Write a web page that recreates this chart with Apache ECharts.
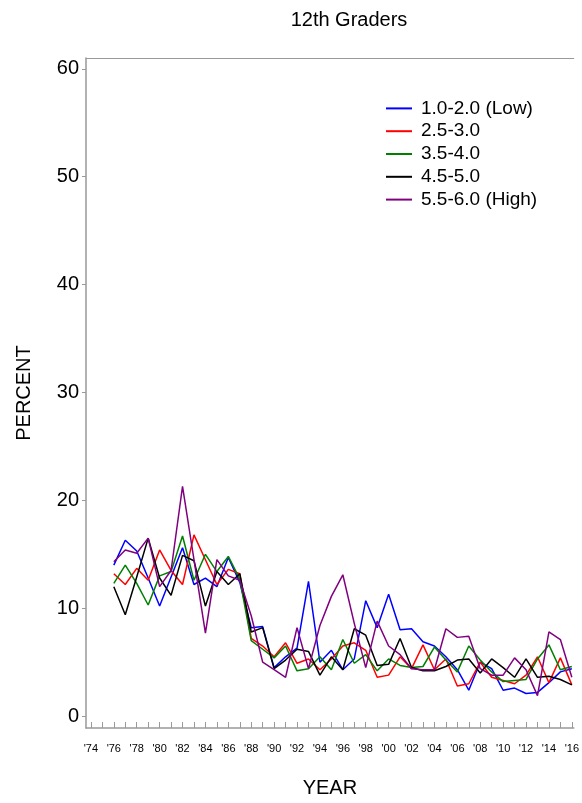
<!DOCTYPE html>
<html>
<head>
<meta charset="utf-8">
<script src="https://cdn.jsdelivr.net/npm/echarts@6/dist/echarts.min.js"></script>
<style>
html,body{margin:0;padding:0;background:#fff;}
#chart{width:582px;height:803px;}
</style>
</head>
<body>
<div id="chart"></div>
<script>
var years = [1976,1977,1978,1979,1980,1981,1982,1983,1984,1985,1986,1987,1988,1989,1990,1991,1992,1993,1994,1995,1996,1997,1998,1999,2000,2001,2002,2003,2004,2005,2006,2007,2008,2009,2010,2011,2012,2013,2014,2015,2016];
var low  = [14.0,16.3,15.3,12.8,10.2,12.9,15.6,12.2,12.8,12.0,14.7,12.4,8.2,8.3,4.5,5.5,6.3,12.5,5.0,6.1,4.3,5.3,10.7,8.2,11.3,8.0,8.1,6.9,6.5,5.5,4.3,2.4,5.0,4.4,2.4,2.6,2.1,2.2,3.1,4.1,4.4];
var r25  = [13.2,12.2,13.7,12.6,15.4,13.5,12.2,16.8,14.5,12.2,13.6,13.2,7.2,6.5,5.5,6.8,4.9,5.3,4.3,5.3,6.5,6.8,6.1,3.6,3.8,5.5,4.4,6.6,4.3,5.3,2.8,3.0,5.0,3.6,3.3,3.0,3.8,5.5,3.1,5.4,2.9];
var r35  = [12.3,14.0,12.3,10.3,13.0,13.4,16.7,12.6,15.0,13.4,14.8,12.7,7.0,6.2,5.4,6.5,4.2,4.4,5.5,4.3,7.1,4.9,5.7,4.2,5.3,4.7,4.5,4.6,6.4,5.2,4.1,6.5,5.2,4.1,3.2,3.3,3.4,5.3,6.6,4.3,4.6];
var r45  = [12.0,9.4,12.9,16.5,12.8,11.2,14.9,14.4,10.2,13.4,12.2,13.2,7.8,8.2,4.4,5.2,6.2,6.0,3.8,5.5,4.3,8.1,7.5,4.7,4.8,7.2,4.5,4.2,4.2,4.6,5.2,5.3,4.0,5.3,4.5,3.6,5.3,3.6,3.7,3.4,2.9];
var high = [14.3,15.4,15.1,16.5,12.0,13.5,21.3,14.5,7.7,14.5,13.0,12.6,9.3,5.0,4.3,3.6,8.2,4.4,8.4,11.1,13.1,8.6,4.5,8.8,6.5,5.7,4.4,4.3,4.3,8.1,7.3,7.4,4.4,3.8,3.8,5.4,4.3,1.9,7.8,7.1,3.6];
var seriesNames = ['1.0-2.0 (Low)','2.5-3.0','3.5-4.0','4.5-5.0','5.5-6.0 (High)'];
var tickYears = [1974,1975,1976,1977,1978,1979,1980,1981,1982,1983,1984,1985,1986,1987,1988,1989,1990,1991,1992,1993,1994,1995,1996,1997,1998,1999,2000,2001,2002,2003,2004,2005,2006,2007,2008,2009,2010,2011,2012,2013,2014,2015,2016];
var labelYears = [1974,1976,1978,1980,1982,1984,1986,1988,1990,1992,1994,1996,1998,2000,2002,2004,2006,2008,2010,2012,2014,2016];
var yLabels = [0,10,20,30,40,50,60];

var FONT = 'Liberation Sans, Arial, sans-serif';
var colors = ['#0000ff','#ff0000','#008000','#000000','#800080'];
var allData = [low, r25, r35, r45, high];

function pairs(vals){ return years.map(function(y,i){ return [y, vals[i]]; }); }

var chart = echarts.init(document.getElementById('chart'), null, {renderer:'canvas'});
var X_MIN = 1973.57, X_MAX = 2016.17;
chart.setOption({
  animation: false,
  backgroundColor: '#fff',
  title: {
    text: '12th Graders',
    left: 349, top: 10, textAlign: 'center', padding: 0,
    textStyle: {fontFamily: FONT, fontSize: 20, fontWeight: 'normal', color: '#000'}
  },
  legend: {
    orient: 'vertical',
    left: 386, top: 97, padding: 0,
    itemWidth: 26, itemHeight: 2, itemGap: 0,
    icon: 'rect',
    data: seriesNames,
    textStyle: {fontFamily: FONT, fontSize: 19, color: '#000', lineHeight: 22.8, padding: [0,0,0,4]}
  },
  grid: {left: 86, right: 2, top: 58, bottom: 75, containLabel: false},
  xAxis: [{
    type: 'value', min: X_MIN, max: X_MAX,
    name: 'YEAR', nameLocation: 'middle', nameGap: 50,
    nameTextStyle: {fontFamily: FONT, fontSize: 20, color: '#000'},
    axisLine: {show: true, onZero: false, lineStyle: {color: '#999', width: 1.5}},
    axisTick: {show: true, inside: true, length: 6, customValues: tickYears, lineStyle: {color: '#999'}},
    axisLabel: {customValues: labelYears, fontFamily: FONT, fontSize: 11, color: '#000', margin: 15,
      formatter: function(v){ return "'" + String(Math.round(v)).slice(2); }},
    splitLine: {show: false}
  },{
    type: 'value', min: X_MIN, max: X_MAX, position: 'top',
    axisLine: {show: true, onZero: false, lineStyle: {color: '#999', width: 1}},
    axisTick: {show: false}, axisLabel: {show: false}, splitLine: {show: false}
  }],
  yAxis: {
    type: 'value', min: -1.1, max: 61,
    name: 'PERCENT', nameLocation: 'middle', nameGap: 52, nameRotate: 90,
    nameTextStyle: {fontFamily: FONT, fontSize: 20, color: '#000'},
    axisLine: {show: true, onZero: false, lineStyle: {color: '#999', width: 1.5}},
    axisTick: {show: true, inside: false, length: 4, customValues: yLabels, lineStyle: {color: '#999'}},
    axisLabel: {customValues: yLabels, fontFamily: FONT, fontSize: 20, color: '#000', margin: 7},
    splitLine: {show: false}
  },
  series: seriesNames.map(function(n, k){
    return {
      name: n, type: 'line', xAxisIndex: 0, showSymbol: false, symbol: 'none',
      data: pairs(allData[k]),
      itemStyle: {color: colors[k]},
      lineStyle: {color: colors[k], width: 1.5}
    };
  })
});
</script>
</body>
</html>
